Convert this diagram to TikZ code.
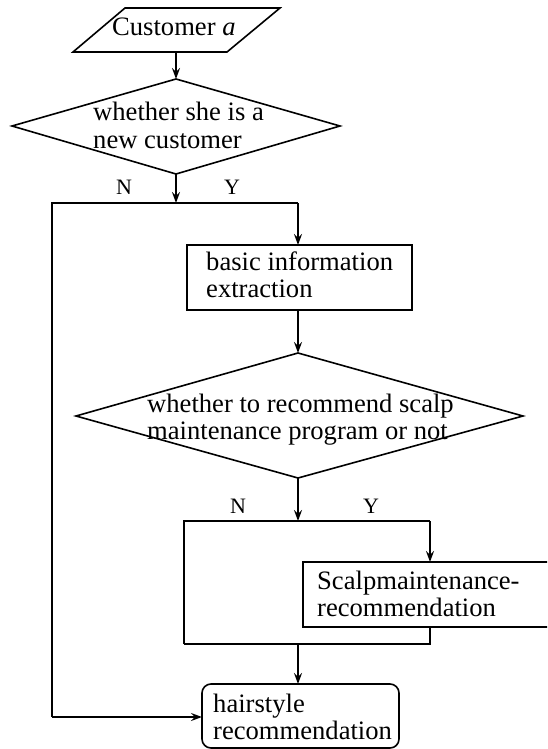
\documentclass[tikz,border=0pt]{standalone}
\usepackage{fontspec}
\setmainfont{Liberation Serif}
\usetikzlibrary{arrows.meta}
\begin{document}
\begin{tikzpicture}[x=1pt,y=-1pt,
  shp/.style={draw,line width=1.6pt,line join=miter},
  ln/.style={draw,line width=1.6pt},
  arr/.style={ln,-{Stealth[length=11pt,width=8pt,inset=4pt]}},
  txt/.style={anchor=base west,inner sep=0pt,font=\fontsize{26.6}{27}\selectfont},
  lbl/.style={anchor=base,inner sep=0pt,font=\fontsize{22}{24}\selectfont}]
\useasboundingbox (0,0) rectangle (547,749);
\begin{scope}
\clip (0,0) rectangle (547,749);
% input parallelogram
\draw[shp] (125,8) -- (280,8) -- (227,52) -- (73,52) -- cycle;
\coordinate (inB) at (176,52);
\node[txt] (intxt) at (112,36) {Customer \textit{a}};
% diamond 1
\draw[shp] (176,79) -- (340,126) -- (176,174) -- (12,126) -- cycle;
\coordinate (d1T) at (176,79);
\coordinate (d1B) at (176,174);
\node[txt] (d1t1) at (93,121) {whether she is a};
\node[txt] (d1t2) at (93,148) {new customer};
\node[lbl] (N1) at (124,194) {N};
\node[lbl] (Y1) at (232,194) {Y};
% junction 1
\coordinate (j1) at (176,203);
\coordinate (j1L) at (52,203);
\coordinate (j1R) at (298,203);
% box 1
\draw[shp] (187,245) rectangle (412,310);
\coordinate (b1T) at (298,245);
\coordinate (b1B) at (298,310);
\node[txt] (b1t1) at (206,270) {basic information};
\node[txt] (b1t2) at (206,297) {extraction};
% diamond 2
\draw[shp] (298,353) -- (523,416) -- (298,478) -- (76,416) -- cycle;
\coordinate (d2T) at (298,353);
\coordinate (d2B) at (298,478);
\node[txt] (d2t1) at (147,412) {whether to recommend scalp};
\node[txt] (d2t2) at (147,439) {maintenance program or not};
\node[lbl] (N2) at (238,513) {N};
\node[lbl] (Y2) at (371,513) {Y};
% junction 2
\coordinate (j2) at (298,521);
\coordinate (j2L) at (184,521);
\coordinate (j2R) at (430,521);
% box 2
\draw[shp] (303,562) rectangle (600,627);
\coordinate (b2T) at (430,562);
\coordinate (b2B) at (430,627);
\node[txt] (b2t1) at (317,589) {Scalpmaintenance-};
\node[txt] (b2t2) at (317,616) {recommendation};
% junction 3
\coordinate (j3L) at (184,644);
\coordinate (j3R) at (430,644);
\coordinate (j3) at (298,644);
% final box
\draw[shp,rounded corners=9pt] (202,684) rectangle (399,748);
\coordinate (fT) at (298,684);
\coordinate (fL) at (202,717);
\coordinate (lB) at (52,717);
\node[txt] (ft1) at (213,712) {hairstyle};
\node[txt] (ft2) at (213,739) {recommendation};
% connectors
\draw[arr] (inB) -- (d1T);
\draw[arr] (d1B) -- (j1);
\draw[ln] (lB) -- (j1L) -- (j1R);
\draw[arr] (j1R) -- (b1T);
\draw[arr] (b1B) -- (d2T);
\draw[arr] (d2B) -- (j2);
\draw[ln] (j3L) -- (j2L) -- (j2R);
\draw[arr] (j2R) -- (b2T);
\draw[ln] (b2B) -- (j3R) -- (j3L);
\draw[arr] (j3) -- (fT);
\draw[arr] (lB) -- (fL);
\end{scope}
\end{tikzpicture}
\end{document}
